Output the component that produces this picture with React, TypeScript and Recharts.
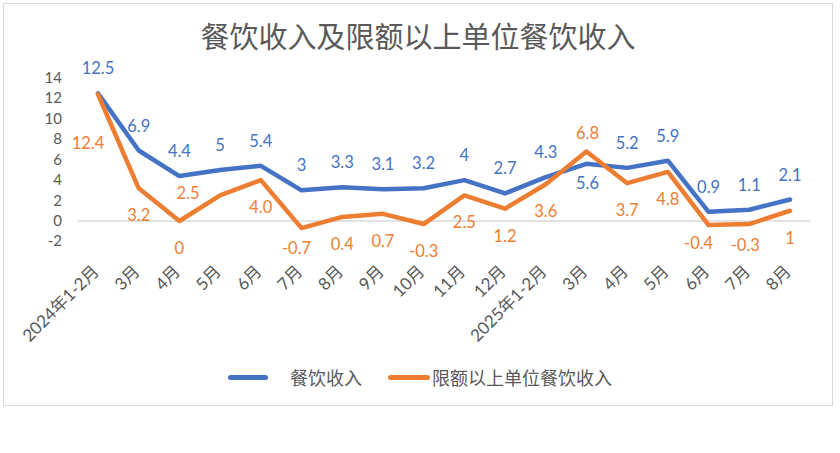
import React from 'react';
import { LineChart, Line, XAxis, YAxis, ReferenceLine, LabelList, Legend } from 'recharts';

const categories = ['2024年1-2月', '3月', '4月', '5月', '6月', '7月', '8月', '9月', '10月', '11月', '12月', '2025年1-2月', '3月', '4月', '5月', '6月', '7月', '8月'];
const dining = [12.5, 6.9, 4.4, 5, 5.4, 3, 3.3, 3.1, 3.2, 4, 2.7, 4.3, 5.6, 5.2, 5.9, 0.9, 1.1, 2.1];
const diningAbove = [12.4, 3.2, 0, 2.5, 4.0, -0.7, 0.4, 0.7, -0.3, 2.5, 1.2, 3.6, 6.8, 3.7, 4.8, -0.4, -0.3, 1];
const diningLabelText = ['12.5', '6.9', '4.4', '5', '5.4', '3', '3.3', '3.1', '3.2', '4', '2.7', '4.3', '5.6', '5.2', '5.9', '0.9', '1.1', '2.1'];
const diningAboveLabelText = ['12.4', '3.2', '0', '2.5', '4.0', '-0.7', '0.4', '0.7', '-0.3', '2.5', '1.2', '3.6', '6.8', '3.7', '4.8', '-0.4', '-0.3', '1'];
const yTicks = [-2, 0, 2, 4, 6, 8, 10, 12, 14];
const seriesNames = ['餐饮收入', '限额以上单位餐饮收入'];

const BLUE = '#4472C4';
const ORANGE = '#ED7D31';
const GRAY = '#595959';
const FONT = "Lato, 'Noto Sans CJK SC', sans-serif";
const CJK = "'Noto Sans CJK SC', sans-serif";

// label offsets (label centre relative to the point), style only
const blueOffsets: Record<number, [number, number]> = { 12: [1, 19] };
const blueDefault: [number, number] = [0, -25];
const orangeOffsets: Record<number, [number, number]> = {
  0: [-10, 48.5],
  3: [-32, -2],
  5: [-5, 20],
  12: [1, -18.5],
  15: [-10, 18],
  16: [-4, 21],
};
const orangeDefault: [number, number] = [0, 27];

const data = categories.map((c, i) => ({
  cat: c,
  dining: dining[i],
  diningAbove: diningAbove[i],
}));

const makeLabel = (texts: string[], offsets: Record<number, [number, number]>, def: [number, number], color: string) => (props: any) => {
  const { x, y, index } = props;
  const [dx, dy] = offsets[index] || def;
  return (
    <text
      x={x + dx}
      y={y + dy + 6}
      textAnchor="middle"
      fill={color}
      fontSize={16.5}
      fontFamily={FONT}
    >
      {texts[index]}
    </text>
  );
};

const XTick = (props: any) => {
  const { x, y, payload } = props;
  const tx = x + 2;
  const ty = y + 31;
  return (
    <text
      x={tx}
      y={ty}
      transform={`rotate(-45 ${tx} ${ty})`}
      textAnchor="end"
      fill={GRAY}
      fontSize={17}
      fontFamily={FONT}
    >
      {payload.value}
    </text>
  );
};

const YTick = (props: any) => {
  const { x, y, payload } = props;
  return (
    <text x={x} y={y + 5} textAnchor="end" fill={GRAY} fontSize={15} fontFamily={FONT}>
      {payload.value}
    </text>
  );
};

const LegendContent = () => (
  <div
    style={{
      display: 'flex',
      justifyContent: 'center',
      alignItems: 'center',
      height: 26,
      fontFamily: CJK,
      fontSize: 18,
      color: GRAY,
    }}
  >
    <div style={{ width: 40, height: 5, background: BLUE, borderRadius: 3 }} />
    <div style={{ marginLeft: 22, lineHeight: '26px' }}>{seriesNames[0]}</div>
    <div style={{ marginLeft: 26, width: 42, height: 5, background: ORANGE, borderRadius: 3 }} />
    <div style={{ marginLeft: 2, lineHeight: '26px' }}>{seriesNames[1]}</div>
  </div>
);

export default function App() {
  return (
    <div style={{ position: 'absolute', left: 0, top: 0, width: 840, height: 453, background: '#fff' }}>
      <div
        style={{
          position: 'absolute',
          left: 3,
          top: 3,
          width: 828,
          height: 401,
          border: '1.5px solid #D9D9D9',
        }}
      />
      <div
        style={{
          position: 'absolute',
          left: 0,
          top: 21,
          width: 836,
          textAlign: 'center',
          fontSize: 29,
          lineHeight: '29px',
          color: GRAY,
          fontFamily: CJK,
        }}
      >
        餐饮收入及限额以上单位餐饮收入
      </div>
      <div style={{ position: 'absolute', left: 0, top: 0 }}>
        <LineChart width={840} height={453} data={data} margin={{ top: 78, right: 30, bottom: 0, left: 0 }}>
          <XAxis
            dataKey="cat"
            interval={0}
            axisLine={false}
            tickLine={false}
            tickSize={0}
            tickMargin={0}
            height={185.6}
            padding={{ left: 20, right: 20 }}
            tick={<XTick />}
          />
          <YAxis
            domain={[-2, 14]}
            ticks={yTicks}
            interval={0}
            width={78}
            axisLine={false}
            tickLine={false}
            tickSize={0}
            tickMargin={16}
            tick={<YTick />}
          />
          <ReferenceLine y={0} stroke="#D9D9D9" strokeWidth={1.5} />
          <Legend
            verticalAlign="bottom"
            wrapperStyle={{ top: 364, left: 0, width: 840, height: 26 }}
            content={<LegendContent />}
          />
          <Line
            type="linear"
            dataKey="dining"
            name={seriesNames[0]}
            stroke={BLUE}
            strokeWidth={4.5}
            strokeLinejoin="round"
            strokeLinecap="round"
            dot={false}
            activeDot={false}
            isAnimationActive={false}
          >
            <LabelList dataKey="dining" content={makeLabel(diningLabelText, blueOffsets, blueDefault, BLUE)} />
          </Line>
          <Line
            type="linear"
            dataKey="diningAbove"
            name={seriesNames[1]}
            stroke={ORANGE}
            strokeWidth={4.5}
            strokeLinejoin="round"
            strokeLinecap="round"
            dot={false}
            activeDot={false}
            isAnimationActive={false}
          >
            <LabelList dataKey="diningAbove" content={makeLabel(diningAboveLabelText, orangeOffsets, orangeDefault, ORANGE)} />
          </Line>
        </LineChart>
      </div>
    </div>
  );
}
